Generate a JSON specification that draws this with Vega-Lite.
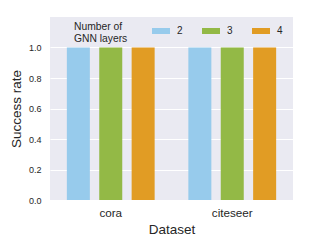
{
  "$schema": "https://vega.github.io/schema/vega-lite/v6.json",
  "width": 243,
  "height": 183,
  "autosize": {"type": "none"},
  "padding": {"left": 50, "top": 17, "right": 17, "bottom": 48},
  "background": "white",
  "data": {
    "values": [
      {"dataset": "cora", "layers": "2", "rate": 1.0},
      {"dataset": "cora", "layers": "3", "rate": 1.0},
      {"dataset": "cora", "layers": "4", "rate": 1.0},
      {"dataset": "citeseer", "layers": "2", "rate": 1.0},
      {"dataset": "citeseer", "layers": "3", "rate": 1.0},
      {"dataset": "citeseer", "layers": "4", "rate": 1.0}
    ]
  },
  "mark": {"type": "bar"},
  "encoding": {
    "x": {
      "field": "dataset",
      "type": "nominal",
      "sort": ["cora", "citeseer"],
      "scale": {"paddingInner": 0.2, "paddingOuter": 0.1},
      "axis": {
        "title": "Dataset",
        "labelAngle": 0,
        "labelFontSize": 11.7,
        "titleFontSize": 13.5,
        "labelPadding": 7,
        "titlePadding": 4,
        "grid": false,
        "ticks": false,
        "domain": false,
        "labelColor": "#262626",
        "titleColor": "#262626",
        "titleFontWeight": "normal"
      }
    },
    "xOffset": {
      "field": "layers",
      "type": "nominal",
      "scale": {"paddingInner": 0.29, "paddingOuter": 0.145}
    },
    "y": {
      "field": "rate",
      "type": "quantitative",
      "scale": {"domain": [0, 1.2], "nice": false},
      "axis": {
        "title": "Success rate",
        "values": [0, 0.2, 0.4, 0.6, 0.8, 1.0],
        "format": ".1f",
        "labelFontSize": 9,
        "titleFontSize": 13.5,
        "labelPadding": 9,
        "titlePadding": 5,
        "ticks": false,
        "domain": false,
        "gridColor": "white",
        "gridWidth": 1.2,
        "gridOpacity": 1,
        "labelColor": "#262626",
        "titleColor": "#262626",
        "titleFontWeight": "normal"
      }
    },
    "color": {
      "field": "layers",
      "type": "nominal",
      "scale": {"domain": ["2", "3", "4"], "range": ["#97CBEC", "#93B946", "#E19C24"]},
      "legend": {
        "title": ["Number of", "GNN layers"],
        "orient": "none",
        "legendX": 24,
        "legendY": 5,
        "direction": "horizontal",
        "titleOrient": "left",
        "titleFontSize": 10.3,
        "titleFontWeight": "normal",
        "titleColor": "#262626",
        "titleLineHeight": 12,
        "titlePadding": 24,
        "labelFontSize": 10,
        "labelColor": "#262626",
        "labelOffset": 7,
        "columnPadding": 19,
        "symbolType": "M-1,-0.333L1,-0.333L1,0.333L-1,0.333Z",
        "symbolSize": 324,
        "symbolStrokeWidth": 0,
        "padding": 0,
        "encode": {"title": {"update": {"dy": {"value": 4}}}}
      }
    }
  },
  "config": {
    "font": "Liberation Sans",
    "view": {"fill": "#EAEAF2", "stroke": null}
  }
}
